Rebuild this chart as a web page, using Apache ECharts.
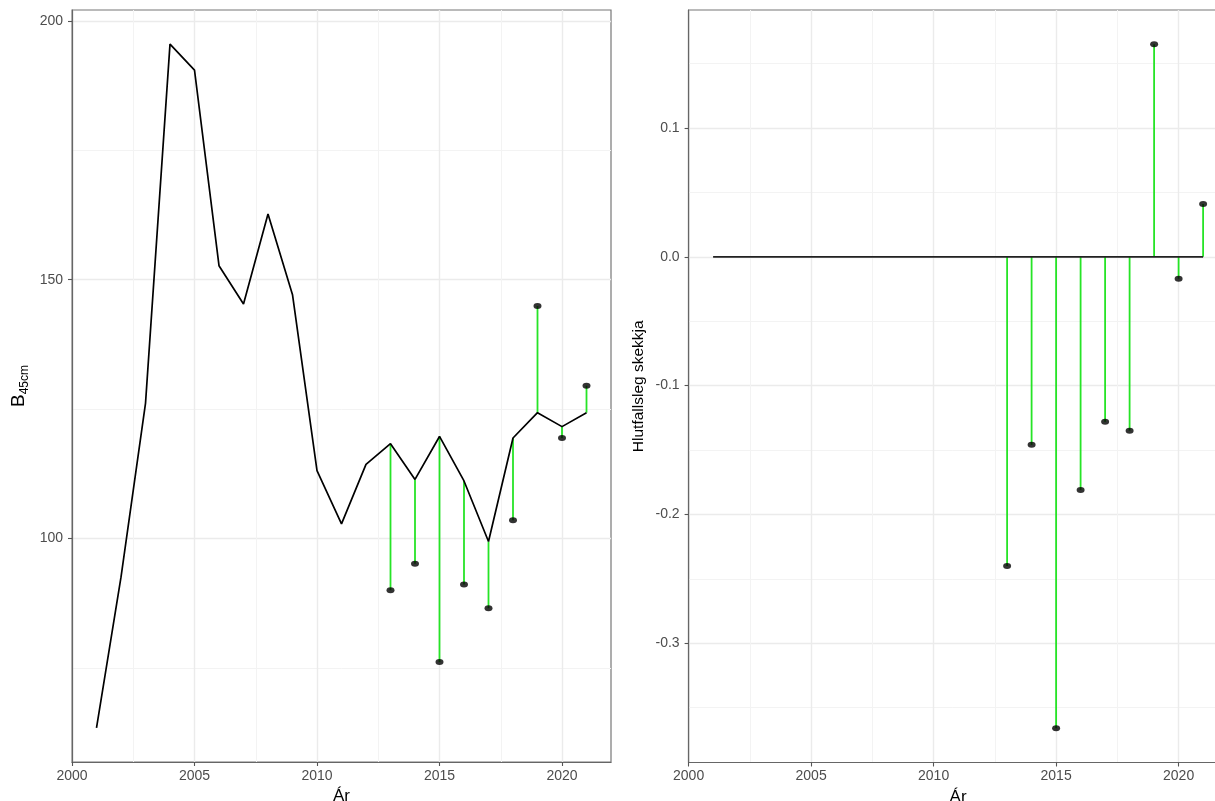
<!DOCTYPE html>
<html>
<head>
<meta charset="utf-8">
<script src="https://cdn.jsdelivr.net/npm/echarts@6/dist/echarts.min.js"></script>
<style>
  html, body { margin: 0; padding: 0; background: #ffffff; }
  #chart { width: 1215px; height: 801px; }
</style>
</head>
<body>
<div id="chart"></div>
<script>
// Yearly index series (left panel line)
const years = [2001, 2002, 2003, 2004, 2005, 2006, 2007, 2008, 2009, 2010, 2011,
               2012, 2013, 2014, 2015, 2016, 2017, 2018, 2019, 2020, 2021];
const biomass = [63.4, 92.5, 126.1, 195.5, 190.5, 152.7, 145.3, 162.7, 147.1, 113.1, 102.8,
                 114.3, 118.3, 111.4, 119.7, 111.1, 99.4, 119.4, 124.3, 121.6, 124.3];

// Retrospective estimates and their relative deviation
const checkYears = [2013, 2014, 2015, 2016, 2017, 2018, 2019, 2020, 2021];
const observed = [90.0, 95.1, 76.1, 91.1, 86.5, 103.5, 144.9, 119.4, 129.5];
const relError = [-0.240, -0.146, -0.366, -0.181, -0.128, -0.135, 0.165, -0.017, 0.041];

// Tick labels
const xTicks = [2000, 2005, 2010, 2015, 2020];
const leftYTicks = [100, 150, 200];
const rightYTicks = [-0.3, -0.2, -0.1, 0.0, 0.1];

const STEM = '#26e426';
const FONT = 'Liberation Sans, Arial, Helvetica, sans-serif';

// 5% padding on each side of the data range
function padded(values) {
  const lo = Math.min(...values), hi = Math.max(...values);
  const pad = (hi - lo) * 0.05;
  return [lo - pad, hi + pad];
}
const xRange = padded(years);
const leftRange = padded(biomass.concat(observed));
const rightRange = padded(relError.concat([0]));

const gridLine = { color: '#ebebeb', width: 1.4 };
const minorLine = { color: '#f3f3f3', width: 1 };

function xAxisFor(gridIndex) {
  return {
    type: 'value', gridIndex,
    min: xRange[0], max: xRange[1], interval: 5,
    axisLine: { show: true, onZero: false, lineStyle: { color: '#666', width: 1.2 } },
    axisTick: { show: true, length: 4, customValues: xTicks, lineStyle: { color: '#555', width: 1.1 } },
    axisLabel: { customValues: xTicks, color: '#4d4d4d', fontSize: 14, fontFamily: FONT, margin: 7,
                 formatter: v => String(v) },
    splitLine: { show: true, lineStyle: gridLine },
    minorTick: { show: false, splitNumber: 2 },
    minorSplitLine: { show: true, lineStyle: minorLine },
    name: 'Ár', nameLocation: 'middle', nameGap: 19,
    nameTextStyle: { color: '#000', fontSize: 17, fontFamily: FONT }
  };
}

function yAxisFor(gridIndex, range, ticks, splitNumber, fmt, name, nameStyle, nameGap) {
  return {
    type: 'value', gridIndex,
    min: range[0], max: range[1], splitNumber,
    axisLine: { show: true, onZero: false, lineStyle: { color: '#666', width: 1.2 } },
    axisTick: { show: true, length: 4, customValues: ticks, lineStyle: { color: '#555', width: 1.1 } },
    axisLabel: { customValues: ticks, color: '#4d4d4d', fontSize: 14, fontFamily: FONT, margin: 9,
                 formatter: fmt },
    splitLine: { show: true, lineStyle: gridLine },
    minorTick: { show: false, splitNumber: 2 },
    minorSplitLine: { show: true, lineStyle: minorLine },
    name, nameLocation: 'middle', nameRotate: 90, nameGap,
    nameTextStyle: nameStyle
  };
}

function stems(xi, yi, rows) {
  return {
    type: 'custom', xAxisIndex: xi, yAxisIndex: yi, z: 2, silent: true,
    data: rows, encode: { x: 0, y: [1, 2] },
    renderItem(params, api) {
      const a = api.coord([api.value(0), api.value(1)]);
      const b = api.coord([api.value(0), api.value(2)]);
      return { type: 'line', shape: { x1: a[0], y1: a[1], x2: b[0], y2: b[1] },
               style: { stroke: STEM, lineWidth: 1.8 } };
    }
  };
}

const lineByYear = {};
years.forEach((y, i) => { lineByYear[y] = biomass[i]; });

const option = {
  animation: false,
  backgroundColor: '#ffffff',
  grid: [
    { left: 72, top: 10, width: 539, height: 752, show: true, borderColor: '#777', borderWidth: 1.2,
      containLabel: false, outerBoundsMode: 'none' },
    { left: 688.6, top: 10, width: 539, height: 752.5, show: true, borderColor: '#777', borderWidth: 1.2,
      containLabel: false, outerBoundsMode: 'none' }
  ],
  xAxis: [xAxisFor(0), xAxisFor(1)],
  yAxis: [
    yAxisFor(0, leftRange, leftYTicks, 3, v => String(v), '{b|B}{s|45cm}',
      { color: '#000', fontFamily: FONT,
        rich: { b: { fontSize: 19, fontFamily: FONT, color: '#000', padding: [0, 0, 3, 0] },
                s: { fontSize: 12, fontFamily: FONT, color: '#000', verticalAlign: 'bottom' } } }, 41),
    yAxisFor(1, rightRange, rightYTicks, 5, v => v.toFixed(1), 'Hlutfallsleg skekkja',
      { color: '#000', fontSize: 15.5, fontFamily: FONT }, 42)
  ],
  series: [
    stems(0, 0, checkYears.map((y, i) => [y, lineByYear[y], observed[i]])),
    {
      type: 'line', xAxisIndex: 0, yAxisIndex: 0, z: 3, silent: true,
      data: years.map((y, i) => [y, biomass[i]]),
      symbol: 'none', lineStyle: { color: '#000', width: 1.7 }
    },
    {
      type: 'scatter', xAxisIndex: 0, yAxisIndex: 0, z: 4, silent: true,
      data: checkYears.map((y, i) => [y, observed[i]]),
      symbol: 'circle', symbolSize: [8, 6], itemStyle: { color: '#000' }
    },
    stems(1, 1, checkYears.map((y, i) => [y, 0, relError[i]])),
    {
      type: 'line', xAxisIndex: 1, yAxisIndex: 1, z: 3, silent: true,
      data: years.map(y => [y, 0]),
      symbol: 'none', lineStyle: { color: '#222', width: 1.7 }
    },
    {
      type: 'scatter', xAxisIndex: 1, yAxisIndex: 1, z: 4, silent: true,
      data: checkYears.map((y, i) => [y, relError[i]]),
      symbol: 'circle', symbolSize: [8, 6], itemStyle: { color: '#000' }
    }
  ]
};

const chart = echarts.init(document.getElementById('chart'), null, { renderer: 'canvas' });
chart.setOption(option);
</script>
</body>
</html>
